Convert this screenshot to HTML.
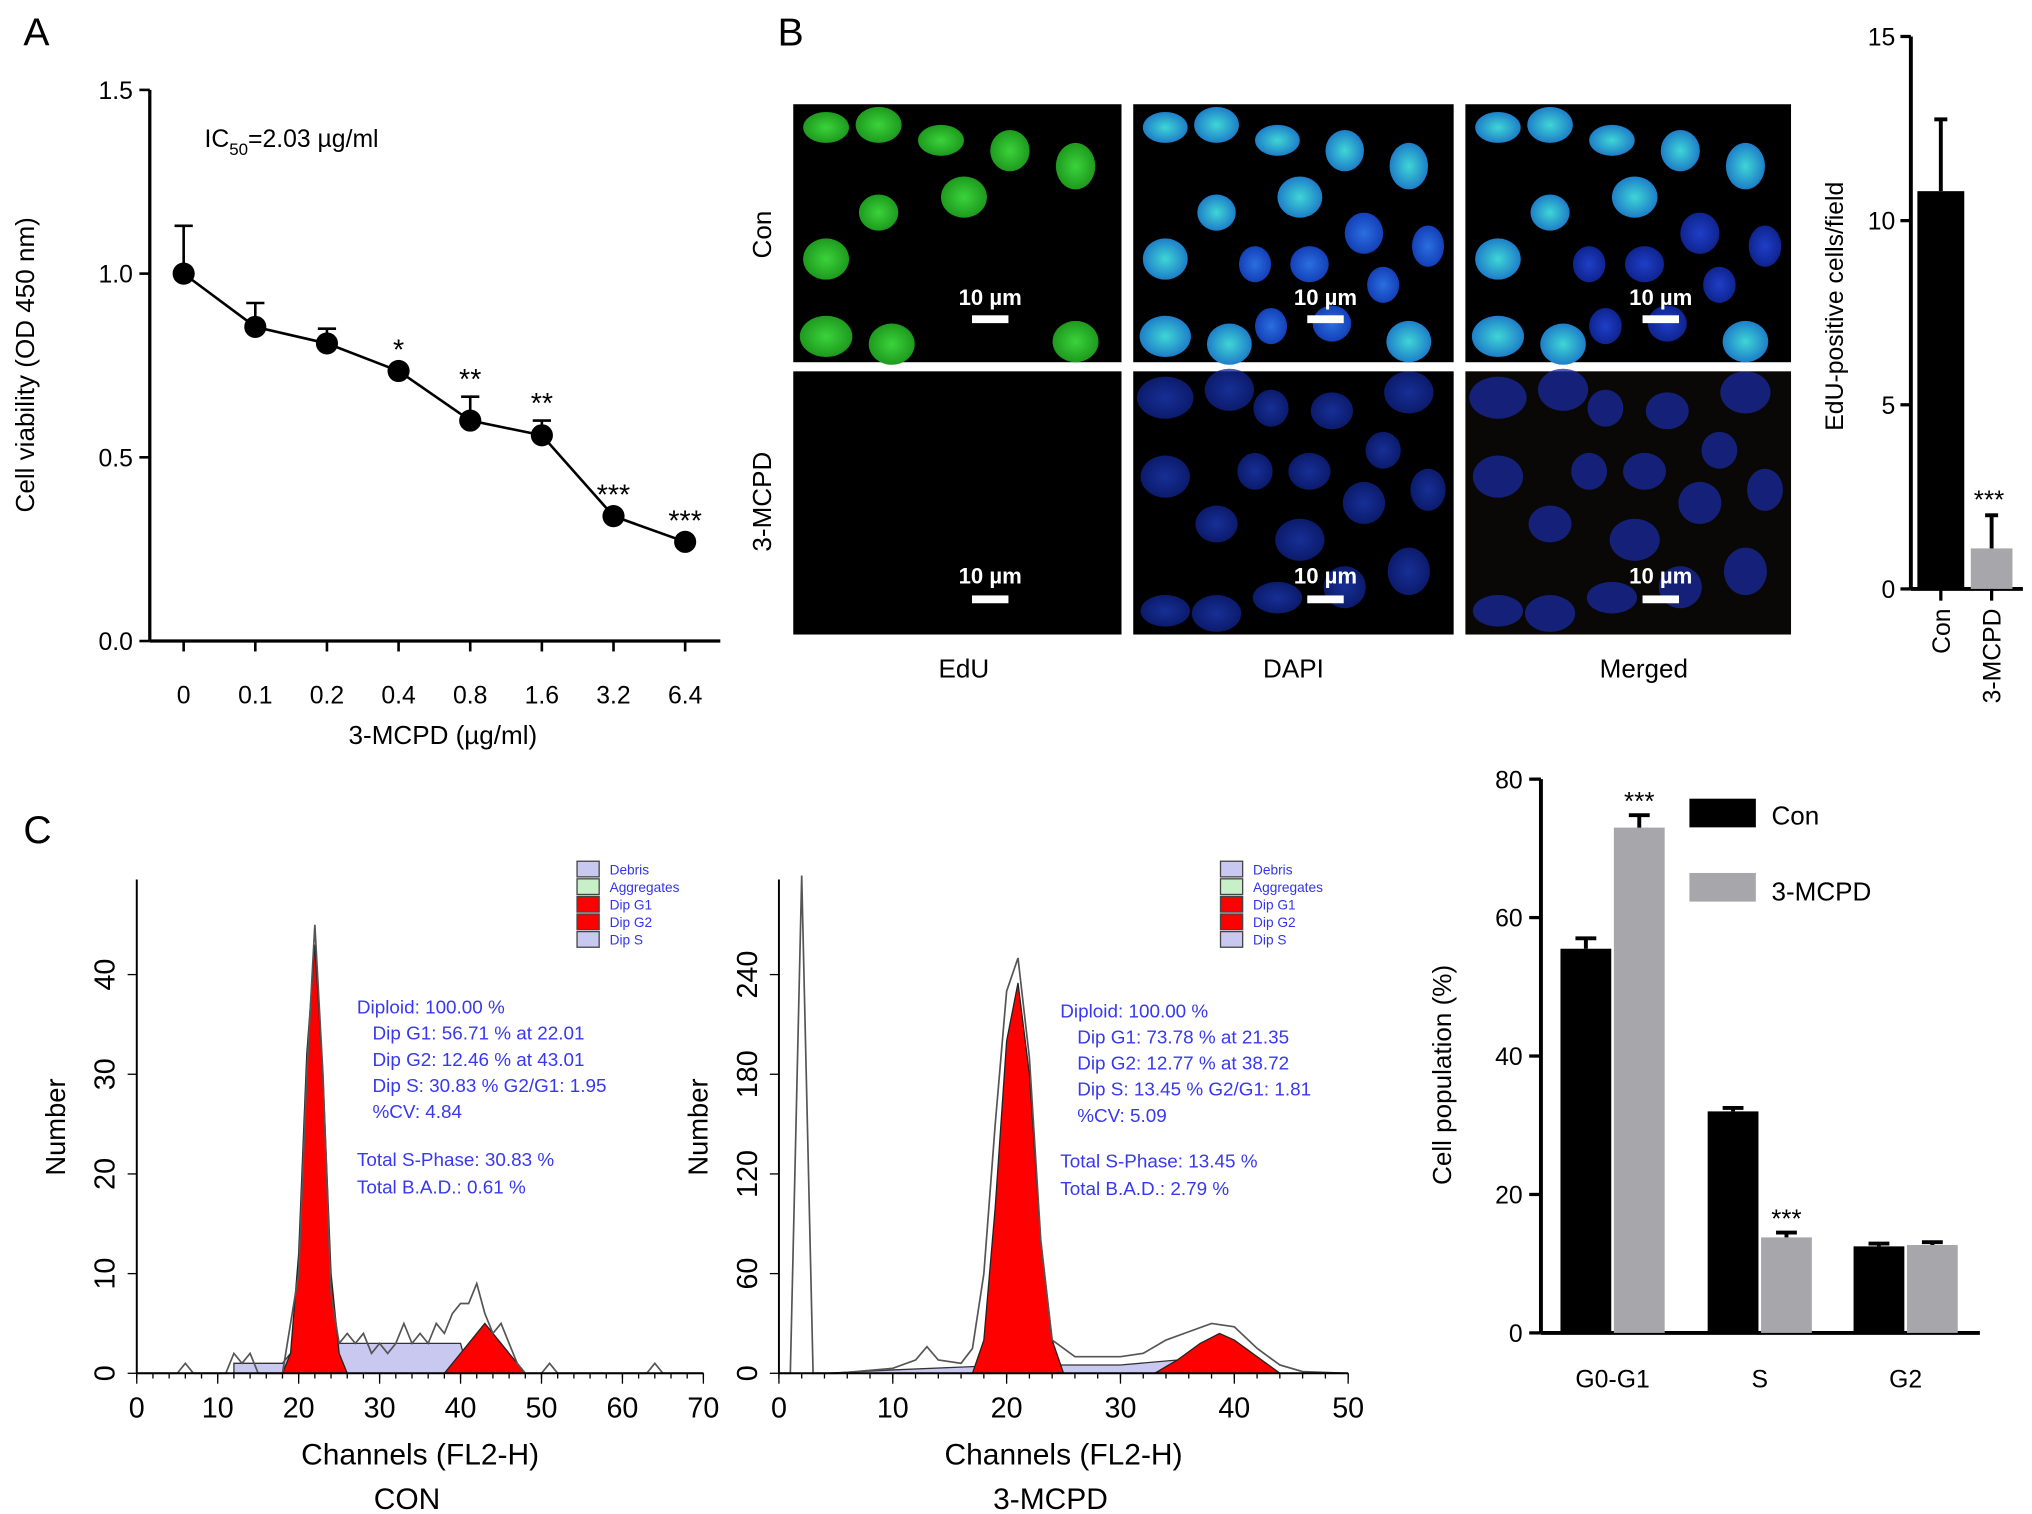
<!DOCTYPE html>
<html><head><meta charset="utf-8"><style>
html,body{margin:0;padding:0;background:#fff}
svg{display:block;font-family:"Liberation Sans",Arial,sans-serif}
</style></head><body>
<svg id="fig" width="2032" height="1514" viewBox="0 0 1560 1162" preserveAspectRatio="none" xmlns="http://www.w3.org/2000/svg">
<defs>
<radialGradient id="gG"><stop offset="0" stop-color="#3bd33b"/><stop offset="1" stop-color="#1e9a1e"/></radialGradient>
<radialGradient id="gC"><stop offset="0" stop-color="#3fd6d6"/><stop offset="1" stop-color="#1e7ec8"/></radialGradient>
<radialGradient id="gB"><stop offset="0" stop-color="#2a6fe0"/><stop offset="1" stop-color="#1440b8"/></radialGradient>
<radialGradient id="gD"><stop offset="0" stop-color="#1f3fc8"/><stop offset="1" stop-color="#0f2490"/></radialGradient>
</defs>
<text x="18" y="35" font-size="30">A</text>
<text x="597" y="35" font-size="30">B</text>
<text x="18" y="647" font-size="30">C</text>
<g id="pA"></g>
<g id="pB"></g>
<g id="pB2"></g>
<g id="pC1"></g>
<g id="pC2"></g>
<g id="pC3"></g>
</svg>
<script>
// ---- Panel A data
const aCategories = ["0","0.1","0.2","0.4","0.8","1.6","3.2","6.4"];
const aValues = [1.0,0.855,0.81,0.735,0.60,0.56,0.34,0.27];
const aErrors = [0.13,0.065,0.04,0.01,0.065,0.04,0.01,0.01];
const aStars = ["","","","*","**","**","***","***"];
const aTicks = [0,0.5,1.0,1.5];
// ---- Panel B bar data
const bCategories = ["Con","3-MCPD"];
const bValues = [10.8,1.1];
const bErrors = [1.95,0.9];
const bTicks = [0,5,10,15];
// ---- Panel C population data
const cGroups = ["G0-G1","S","G2"];
const cCon = [55.5,32,12.5];
const cConErr = [1.5,0.5,0.4];
const cMcpd = [73,13.8,12.7];
const cMcpdErr = [1.8,0.7,0.4];
const cTicks = [0,20,40,60,80];
// ---- Histogram data (channel, count)
const h1Raw = [[0,0],[5,0],[6,1],[7,0],[11,0],[12,2],[13,1],[14,2],[15,0],[18,0],[20,10],[21,30],[22,45],[23,30],[24,8],[25,3],[26,4],[27,3],[28,4],[29,2],[30,3],[31,2],[32,3],[33,5],[34,3],[35,4],[36,3],[37,5],[38,4],[39,6],[40,7],[41,7],[42,9],[43,6],[44,4],[45,5],[46,3],[47,1],[48,0],[50,0],[51,1],[52,0],[63,0],[64,1],[65,0],[70,0]];
const h1G1 = [[18,0],[19,2],[20,12],[21,32],[22,43],[23,30],[24,10],[25,2],[26,0]];
const h1G2 = [[38,0],[40,2],[42,4],[43,5],[44,4],[46,2],[48,0]];
const h1S = [[12,0],[12,1],[18,1],[20,3],[40,3],[41,0]];
const h2Raw = [[0,0],[1,0],[2,300],[3,0],[5,0],[10,3],[12,8],[13,16],[14,8],[16,6],[17,15],[18,60],[19,150],[20,230],[21,250],[22,190],[23,80],[24,20],[26,10],[30,10],[32,12],[34,20],[36,25],[38,30],[40,28],[42,15],[44,5],[46,1],[50,0]];
const h2G1 = [[17,0],[18,20],[19,100],[20,200],[21,235],[22,180],[23,80],[24,20],[25,0]];
const h2G2 = [[33,0],[35,8],[37,18],[38.7,24],[40,20],[42,10],[44,0]];
const h2S = [[4,0],[10,2],[17,4],[24,5],[30,5],[35,8],[36,0]];
const h1YTicks = [0,10,20,30,40];
const h2YTicks = [0,60,120,180,240];
const h1XTicks = [0,10,20,30,40,50,60,70];
const h2XTicks = [0,10,20,30,40,50];

const NS="http://www.w3.org/2000/svg";
function mk(parent,tag,attrs,text){const e=document.createElementNS(NS,tag);for(const k in attrs)e.setAttribute(k,attrs[k]);if(text!==undefined)e.textContent=text;parent.appendChild(e);return e;}

// ===== Panel A
(function(){
const g=document.getElementById('pA');
const x0=115,y0=492,yTop=69;
const ys=v=>y0-(v/1.5)*(y0-yTop);
const xs=i=>141+i*55;
let e=mk(g,'line',{x1:x0,y1:yTop,x2:x0,y2:y0,stroke:'#000','stroke-width':2.5});

e=mk(g,'line',{x1:x0,y1:y0,x2:553,y2:y0,stroke:'#000','stroke-width':2.5});

aTicks.forEach(t=>{mk(g,'line',{x1:x0-8,y1:ys(t),x2:x0,y2:ys(t),stroke:'#000','stroke-width':2});
 e=mk(g,'text',{x:x0-13,y:ys(t)+7,'font-size':19,'text-anchor':'end'},t.toFixed(1));
 });
aCategories.forEach((c,i)=>{mk(g,'line',{x1:xs(i),y1:y0,x2:xs(i),y2:y0+8,stroke:'#000','stroke-width':2});
 e=mk(g,'text',{x:xs(i),y:y0+48,'font-size':19,'text-anchor':'middle'},c);
 });
e=mk(g,'text',{x:340,y:571,'font-size':20,'text-anchor':'middle'},'3-MCPD (µg/ml)');

e=mk(g,'text',{x:26,y:280,'font-size':20,'text-anchor':'middle',transform:'rotate(-90 26 280)'},'Cell viability (OD 450 nm)');

e=mk(g,'text',{x:157,y:113,'font-size':19},'');
e.innerHTML='IC<tspan font-size="13" dy="6">50</tspan><tspan dy="-6">=2.03 µg/ml</tspan>';

let pts=aValues.map((v,i)=>xs(i)+','+ys(v)).join(' ');
e=mk(g,'polyline',{points:pts,fill:'none',stroke:'#000','stroke-width':2});

aValues.forEach((v,i)=>{
 mk(g,'line',{x1:xs(i),y1:ys(v),x2:xs(i),y2:ys(v+aErrors[i]),stroke:'#000','stroke-width':2});
 mk(g,'line',{x1:xs(i)-7,y1:ys(v+aErrors[i]),x2:xs(i)+7,y2:ys(v+aErrors[i]),stroke:'#000','stroke-width':2});
 e=mk(g,'circle',{cx:xs(i),cy:ys(v),r:8.5,fill:'#000'});
 
 if(aStars[i]){e=mk(g,'text',{x:xs(i),y:ys(v+aErrors[i])-6,'font-size':22,'text-anchor':'middle'},aStars[i]);
 }
});
})();

// ===== Panel B images
(function(){
const g=document.getElementById('pB');
const cols=[[609,252],[870,246],[1125,250]], rows=[[80,198],[285,202]];
const nuc=[[.1,.09,.07,.06],[.26,.08,.07,.07],[.45,.14,.07,.06],[.66,.18,.06,.08],[.86,.24,.06,.09],[.52,.36,.07,.08],[.1,.6,.07,.08],[.26,.42,.06,.07],[.1,.9,.08,.08],[.3,.93,.07,.08],[.86,.92,.07,.08],[.55,.62,.06,.07],[.72,.5,.06,.08],[.38,.62,.05,.07],[.92,.55,.05,.08],[.62,.85,.06,.07],[.43,.86,.05,.07],[.78,.7,.05,.07]];
const green=[0,1,2,3,4,5,6,7,8,9,10];
cols.forEach((c,ci)=>rows.forEach((r,ri)=>{
 let e=mk(g,'rect',{x:c[0],y:r[0],width:c[1],height:r[1],fill:ci==2&&ri==1?'#0a0806':'#000'});
 
 
 nuc.forEach((n,ni)=>{
  let fill=null;
  if(ri==0){ if(ci==0){ if(green.includes(ni)) fill='url(#gG)'; }
   else if(ci==1) fill=green.includes(ni)?'url(#gC)':'url(#gB)';
   else fill=green.includes(ni)?'url(#gC)':'url(#gD)'; }
  else { if(ci>0) fill=ci==1?'url(#gD)':'#1a2aa0'; }
  if(fill) mk(g,'ellipse',{cx:c[0]+n[0]*c[1],cy:r[0]+(ri?1-n[1]:n[1])*r[1],rx:n[2]*c[1]*(ri?1.1:1),ry:n[3]*r[1],fill:fill,opacity:ri?0.75:1});
 });
 mk(g,'text',{x:c[0]+c[1]*0.6,y:r[0]+(ri?163:154),'font-size':17,fill:'#fff','text-anchor':'middle','font-weight':'bold'},'10 µm');
 mk(g,'rect',{x:c[0]+c[1]*0.6-14,y:r[0]+(ri?172:162),width:28,height:6,fill:'#fff'});
}));
[['Con',180],['3-MCPD',385]].forEach(t=>{let e=mk(g,'text',{x:592,y:t[1],'font-size':20,'text-anchor':'middle',transform:'rotate(-90 592 '+t[1]+')'},t[0]);
 });
[['EdU',740],['DAPI',993],['Merged',1262]].forEach(t=>{let e=mk(g,'text',{x:t[1],y:520,'font-size':20,'text-anchor':'middle'},t[0]);
 });
})();

// ===== Panel B bar chart
(function(){
const g=document.getElementById('pB2');
const x0=1467,y0=452,yTop=28;
const ys=v=>y0-(v/15)*(y0-yTop);
mk(g,'line',{x1:x0,y1:yTop,x2:x0,y2:y0,stroke:'#000','stroke-width':3});
mk(g,'line',{x1:x0,y1:y0,x2:1553,y2:y0,stroke:'#000','stroke-width':3});
bTicks.forEach(t=>{mk(g,'line',{x1:x0-8,y1:ys(t),x2:x0,y2:ys(t),stroke:'#000','stroke-width':2.5});
 let e=mk(g,'text',{x:x0-12,y:ys(t)+7,'font-size':19,'text-anchor':'end'},t);
 });
const bx=[1472,1513],bw=[36,32],cols=['#000','#a7a7ab'];
bValues.forEach((v,i)=>{
 let e=mk(g,'rect',{x:bx[i],y:ys(v),width:bw[i],height:y0-ys(v),fill:cols[i]});
 
 const cx=bx[i]+bw[i]/2;
 mk(g,'line',{x1:cx,y1:ys(v),x2:cx,y2:ys(v+bErrors[i]),stroke:'#000','stroke-width':3});
 mk(g,'line',{x1:cx-5,y1:ys(v+bErrors[i]),x2:cx+5,y2:ys(v+bErrors[i]),stroke:'#000','stroke-width':3});
 mk(g,'line',{x1:cx,y1:y0,x2:cx,y2:y0+9,stroke:'#000','stroke-width':2.5});
 e=mk(g,'text',{x:cx+7,y:y0+15,'font-size':19,'text-anchor':'end',transform:'rotate(-90 '+(cx+7)+' '+(y0+15)+')'},bCategories[i]);
 
});
let e=mk(g,'text',{x:1527,y:ys(bValues[1]+bErrors[1])-5,'font-size':20,'text-anchor':'middle'},'***');

e=mk(g,'text',{x:1415,y:235,'font-size':19,'text-anchor':'middle',transform:'rotate(-90 1415 235)'},'EdU-positive cells/field');

})();

// ===== Histograms
function hist(id,x0,x1,xmax,yTop,yPerUnitMax,xTicks,yTicks,raw,G1,G2,S,label,stats,legX){
 const g=document.getElementById(id);
 const y0=1054;
 const xs=v=>x0+v/xmax*(x1-x0);
 const ys=v=>Math.max(672,y0-v*yPerUnitMax);
 const poly=a=>a.map(p=>xs(p[0])+','+ys(p[1])).join(' ');
 let e=mk(g,'polygon',{points:poly(S)+' '+xs(S[S.length-1][0])+','+y0,fill:'#c8c8f0',stroke:'#333','stroke-width':1});
 
 e=mk(g,'polygon',{points:poly(G1),fill:'#f00',stroke:'#222','stroke-width':1});
 
 e=mk(g,'polygon',{points:poly(G2),fill:'#f00',stroke:'#222','stroke-width':1});
 
 e=mk(g,'polyline',{points:poly(raw),fill:'none',stroke:'#555','stroke-width':1.3});
 
 mk(g,'line',{x1:x0,y1:675,x2:x0,y2:y0,stroke:'#000','stroke-width':1.5});
 mk(g,'line',{x1:x0,y1:y0,x2:x1,y2:y0,stroke:'#000','stroke-width':1.5});
 xTicks.forEach(t=>{mk(g,'line',{x1:xs(t),y1:y0,x2:xs(t),y2:y0+8,stroke:'#000'});
  e=mk(g,'text',{x:xs(t),y:y0+34,'font-size':22,'text-anchor':'middle'},t);
  });
 for(let t=0;t<=xmax;t+=2) mk(g,'line',{x1:xs(t),y1:y0,x2:xs(t),y2:y0+4,stroke:'#000'});
 yTicks.forEach(t=>{mk(g,'line',{x1:x0-7,y1:ys(t),x2:x0,y2:ys(t),stroke:'#000'});
  e=mk(g,'text',{x:x0-17,y:ys(t),'font-size':22,'text-anchor':'middle',transform:'rotate(-90 '+(x0-17)+' '+ys(t)+')'},t);
  });
 e=mk(g,'text',{x:x0-55,y:865,'font-size':21,'text-anchor':'middle',transform:'rotate(-90 '+(x0-55)+' 865)'},'Number');
 
 const cx=(x0+x1)/2;
 e=mk(g,'text',{x:cx,y:1124,'font-size':23,'text-anchor':'middle'},'Channels (FL2-H)');
 
 e=mk(g,'text',{x:cx-10,y:1158,'font-size':23,'text-anchor':'middle'},label);
 
 [['Debris','#c8c8f0'],['Aggregates','#c8f0c8'],['Dip G1','#f00'],['Dip G2','#f00'],['Dip S','#c8c8f0']].forEach((l,i)=>{
  mk(g,'rect',{x:legX,y:661+i*13.5,width:17,height:12,fill:l[1],stroke:'#444'});
  e=mk(g,'text',{x:legX+25,y:671+i*13.5,'font-size':10.5,fill:'#3333ee'},l[0]);
  });
 stats.forEach((s,i)=>{e=mk(g,'text',{x:s[0],y:s[1],'font-size':14.5,fill:'#3838f0'},s[2]);
  });
}
hist('pC1',105,540,70,675,7.65,h1XTicks,h1YTicks,h1Raw,h1G1,h1G2,h1S,'CON',[
 [274,778,'Diploid: 100.00 %'],[286,798,'Dip G1: 56.71 % at 22.01'],[286,818,'Dip G2: 12.46 % at 43.01'],
 [286,838,'Dip S: 30.83 %   G2/G1: 1.95'],[286,858,'%CV: 4.84'],[274,895,'Total S-Phase: 30.83 %'],[274,916,'Total B.A.D.: 0.61 %']],443);
hist('pC2',598,1035,50,675,1.275,h2XTicks,h2YTicks,h2Raw,h2G1,h2G2,h2S,'3-MCPD',[
 [814,781,'Diploid: 100.00 %'],[827,801,'Dip G1: 73.78 % at 21.35'],[827,821,'Dip G2: 12.77 % at 38.72'],
 [827,841,'Dip S: 13.45 %   G2/G1: 1.81'],[827,861,'%CV: 5.09'],[814,896,'Total S-Phase: 13.45 %'],[814,917,'Total B.A.D.: 2.79 %']],937);

// ===== Panel C population chart
(function(){
const g=document.getElementById('pC3');
const x0=1183,y0=1023,yTop=598;
const ys=v=>y0-v/80*(y0-yTop);
mk(g,'line',{x1:x0,y1:yTop,x2:x0,y2:y0,stroke:'#000','stroke-width':3});
mk(g,'line',{x1:x0,y1:y0,x2:1520,y2:y0,stroke:'#000','stroke-width':3});
cTicks.forEach(t=>{mk(g,'line',{x1:x0-9,y1:ys(t),x2:x0,y2:ys(t),stroke:'#000','stroke-width':2.5});
 let e=mk(g,'text',{x:x0-14,y:ys(t)+7,'font-size':19,'text-anchor':'end'},t);
 });
const gx=[1238,1351,1463],w=39;
cGroups.forEach((gr,i)=>{
 [[cCon,cConErr,'#000',-w-1],[cMcpd,cMcpdErr,'#a7a7ab',1]].forEach((s,j)=>{
  const v=s[0][i],er=s[1][i],x=gx[i]+s[3];
  let e=mk(g,'rect',{x:x,y:ys(v),width:w,height:y0-ys(v),fill:s[2]});
  
  const cx=x+w/2;
  mk(g,'line',{x1:cx,y1:ys(v),x2:cx,y2:ys(v+er),stroke:'#000','stroke-width':3});
  mk(g,'line',{x1:cx-8,y1:ys(v+er),x2:cx+8,y2:ys(v+er),stroke:'#000','stroke-width':3});
 });
 let e=mk(g,'text',{x:gx[i],y:1065,'font-size':19,'text-anchor':'middle'},gr);
 
});
[0,1].forEach(i=>{let e=mk(g,'text',{x:gx[i]+w/2+1,y:ys(cMcpd[i]+cMcpdErr[i])-4,'font-size':20,'text-anchor':'middle'},'***');
 });
let e=mk(g,'text',{x:1114,y:825,'font-size':20,'text-anchor':'middle',transform:'rotate(-90 1114 825)'},'Cell population (%)');

e=mk(g,'rect',{x:1297,y:613,width:51,height:22,fill:'#000'});

e=mk(g,'text',{x:1360,y:633,'font-size':20},'Con');

e=mk(g,'rect',{x:1297,y:670,width:51,height:22,fill:'#a7a7ab'});

e=mk(g,'text',{x:1360,y:691,'font-size':20},'3-MCPD');

})();
</script>
</body></html>
